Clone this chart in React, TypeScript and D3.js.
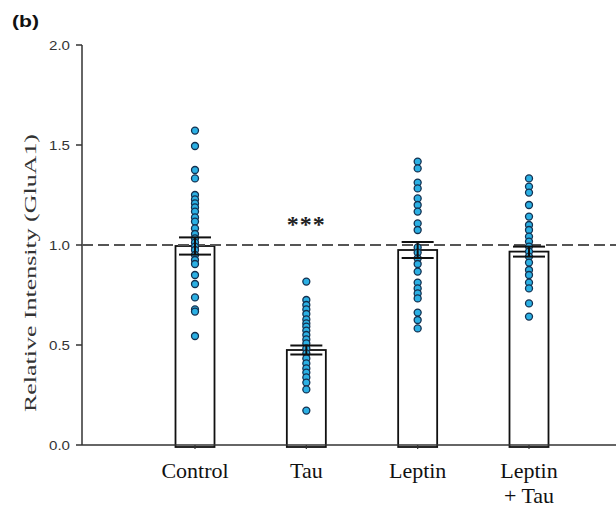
import * as d3 from "d3";

const groups = ["Control", "Tau", "Leptin", "Leptin\n+ Tau"];
const means = [0.995, 0.475, 0.975, 0.967];
const sems = [0.043, 0.023, 0.04, 0.025];
const yTicks = [0, 0.5, 1.0, 1.5, 2.0];

const controlPts = [1.572, 1.495, 1.375, 1.333, 1.25, 1.228, 1.208, 1.188, 1.167, 1.138, 1.117, 1.083, 1.055, 1.033, 1.012, 0.992, 0.975, 0.95, 0.925, 0.905, 0.85, 0.805, 0.738, 0.678, 0.667, 0.545];
const tauPts = [0.817, 0.725, 0.7, 0.678, 0.655, 0.628, 0.608, 0.592, 0.572, 0.55, 0.528, 0.508, 0.483, 0.458, 0.433, 0.408, 0.383, 0.362, 0.338, 0.312, 0.278, 0.172];
const leptinPts = [1.417, 1.383, 1.312, 1.283, 1.233, 1.2, 1.167, 1.108, 1.075, 0.988, 0.962, 0.933, 0.905, 0.867, 0.812, 0.783, 0.758, 0.733, 0.662, 0.625, 0.583];
const leptinTauPts = [1.333, 1.292, 1.262, 1.2, 1.142, 1.1, 1.075, 1.042, 1.017, 0.992, 0.967, 0.942, 0.912, 0.875, 0.85, 0.812, 0.783, 0.708, 0.642];
const points = [controlPts, tauPts, leptinPts, leptinTauPts];

const width = 616, height = 511;
const axisX = 82;
const barW = 39;

export default function App() {
  const x = d3.scaleLinear().domain([0, 3]).range([195, 529]);
  const y = d3.scaleLinear().domain([0, 2]).range([445, 45]);
  const fmt = d3.format(".1f");

  return (
    <svg width={width} height={height} style={{ position: "absolute", left: 0, top: 0, background: "#fff" }}>
      <text x={12} y={27} fontFamily="Liberation Sans, Arial, sans-serif" fontWeight="bold" fontSize={17} fill="#111" textLength={27} lengthAdjust="spacingAndGlyphs">(b)</text>

      {/* y axis */}
      <line x1={axisX} x2={axisX} y1={y(2)} y2={y(0)} stroke="#333" strokeWidth={1.5} />
      {yTicks.map((t) => (
        <g key={t}>
          <line x1={axisX - 6} x2={axisX} y1={y(t)} y2={y(t)} stroke="#333" strokeWidth={1.5} />
          <text x={49} y={y(t) + 4.5} fontFamily="Liberation Sans, Arial, sans-serif" fontSize={13} fill="#333" textLength={21} lengthAdjust="spacingAndGlyphs">{fmt(t)}</text>
        </g>
      ))}
      <text transform={`translate(36, 273) rotate(-90)`} textAnchor="middle" fontFamily="Liberation Serif, Times New Roman, serif" fontSize={17} fill="#333" textLength={278} lengthAdjust="spacingAndGlyphs">Relative Intensity (GluA1)</text>

      {/* bars */}
      {means.map((m, i) => (
        <rect key={i} x={x(i) - barW / 2} y={y(m)} width={barW} height={y(0) - y(m) + 2} fill="#fff" stroke="#111" strokeWidth={1.8} />
      ))}

      {/* x axis */}
      <line x1={axisX} x2={width} y1={y(0)} y2={y(0)} stroke="#333" strokeWidth={1.5} />
      {groups.map((g, i) => (
        <g key={g}>
          <line x1={x(i)} x2={x(i)} y1={y(0)} y2={y(0) + 4} stroke="#333" strokeWidth={1.2} />
          {g.split("\n").map((line, j) => (
            <text key={j} x={x(i)} y={478 + j * 25} textAnchor="middle" fontFamily="Liberation Serif, Times New Roman, serif" fontSize={22} fill="#111">{line}</text>
          ))}
        </g>
      ))}

      {/* reference line */}
      <line x1={axisX} x2={width} y1={y(1)} y2={y(1)} stroke="#555" strokeWidth={2} strokeDasharray="11 5" />

      {/* points */}
      {points.map((pts, i) =>
        pts.map((v, k) => (
          <circle key={`${i}-${k}`} cx={x(i)} cy={y(v)} r={3.5} fill="#2bb0e4" stroke="#14304f" strokeWidth={1.3} />
        ))
      )}

      {/* error bars */}
      {means.map((m, i) => (
        <g key={i} stroke="#111" strokeWidth={2}>
          <line x1={x(i)} x2={x(i)} y1={y(m + sems[i])} y2={y(m - sems[i])} />
          <line x1={x(i) - 16} x2={x(i) + 16} y1={y(m + sems[i])} y2={y(m + sems[i])} />
          <line x1={x(i) - 16} x2={x(i) + 16} y1={y(m - sems[i])} y2={y(m - sems[i])} />
        </g>
      ))}

      <text x={x(1)} y={232} textAnchor="middle" fontFamily="Liberation Serif, Times New Roman, serif" fontWeight="bold" fontSize={24} fill="#222" letterSpacing={1}>***</text>
    </svg>
  );
}
